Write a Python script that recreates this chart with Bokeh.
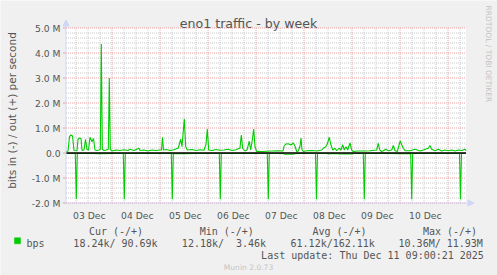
from math import pi
from bokeh.plotting import figure
from bokeh.models import Label, Arrow, NormalHead, Range1d
from bokeh.core.properties import value
from bokeh.embed import file_html
from bokeh.resources import INLINE

# ---------------- data ----------------
TITLE = "eno1 traffic - by week"
Y_LABEL = "bits in (-) / out (+) per second"
WATERMARK = "RRDTOOL / TOBI OETIKER"
FOOTER = "Munin 2.0.73"

# x: hours since 03 Dec 00:00
day_label_hours = [12, 36, 60, 84, 108, 132, 156, 180]
day_labels = ["03 Dec", "04 Dec", "05 Dec", "06 Dec", "07 Dec", "08 Dec", "09 Dec", "10 Dec"]
midnight_hours = [24, 48, 72, 96, 120, 144, 168, 192]
six_hour_marks = [h for h in range(6, 201, 6) if h % 24 != 0]

y_ticks = [-2, -1, 0, 1, 2, 3, 4, 5]
y_tick_labels = ["-2.0 M", "-1.0 M", "0.0", "1.0 M", "2.0 M", "3.0 M", "4.0 M", "5.0 M"]
y_minor = [round(-2 + 0.2 * i, 1) for i in range(36) if i % 5 != 0]

# out (+), Mbit/s
out_hours = [1.0, 2.0, 2.75, 3.5, 4.25, 5.0, 6.5, 7.0, 7.75, 8.5, 9.0, 10.0, 10.75, 11.5,
             12.25, 13.0, 14.0, 14.75, 15.5, 16.5, 17.5, 18.15, 18.65, 19.15, 20.0, 21.0,
             22.15, 22.65, 23.15, 24.0, 26.0, 28.0, 30.0, 32.0, 33.0, 35.0, 37.5, 38.0,
             40.0, 42.0, 44.0, 46.0, 48.0, 48.75, 49.25, 49.75, 51.0, 53.0, 55.0, 57.15,
             58.35, 59.0, 60.15, 60.85, 61.65, 64.0, 66.0, 68.0, 70.0, 71.0, 71.65, 72.35,
             74.0, 76.0, 78.0, 80.0, 82.0, 84.0, 86.0, 88.0, 88.65, 89.35, 90.5, 91.5,
             92.65, 93.35, 94.15, 94.85, 95.5, 96.35, 99.0, 101.0, 104.0, 107.0, 109.5,
             110.0, 110.85, 112.15, 113.5, 114.65, 115.5, 116.35, 117.15, 118.0, 118.5,
             119.0, 119.65, 121.5, 124.0, 126.5, 128.85, 129.65, 130.85, 131.65, 132.65,
             133.35, 134.35, 135.5, 136.35, 137.5, 138.5, 139.35, 140.15, 141.0, 141.85,
             143.0, 143.85, 144.65, 147.0, 150.0, 153.0, 156.35, 157.15, 157.85, 158.85,
             159.65, 160.85, 162.15, 163.85, 164.65, 165.5, 166.65, 167.65, 168.15, 168.85,
             169.65, 170.5, 173.0, 175.5, 178.0, 179.65, 182.15, 183.0, 183.85, 185.5,
             187.15, 188.85, 190.5, 192.15, 193.85, 195.5, 197.15, 199.0, 200.5, 201.0]
out_mbps = [0.05, 0.08, 0.66, 0.72, 0.68, 0.10, 0.09, 0.55, 0.60, 0.58, 0.10, 0.12, 0.55, 0.14,
            0.12, 0.63, 0.45, 0.58, 0.12, 0.10, 0.12, 0.14, 4.36, 0.15, 0.10, 0.12,
            0.15, 3.00, 0.14, 0.08, 0.12, 0.10, 0.13, 0.10, 0.15, 0.10, 0.19, 0.10,
            0.12, 0.08, 0.12, 0.10, 0.12, 0.12, 0.63, 0.12, 0.14, 0.10, 0.13, 0.20,
            0.55, 0.25, 1.36, 0.25, 0.12, 0.14, 0.10, 0.13, 0.11, 0.35, 0.96, 0.12,
            0.10, 0.14, 0.11, 0.12, 0.15, 0.10, 0.13, 0.20, 0.72, 0.18, 0.08, 0.12,
            0.47, 0.12, 0.52, 0.96, 0.25, 0.06, 0.06, 0.07, 0.08, 0.09, 0.08,
            0.27, 0.36, 0.37, 0.32, 0.40, 0.27, 0.06, 0.08, 0.27, 0.60,
            0.12, 0.06, 0.09, 0.10, 0.08, 0.12, 0.19, 0.25, 0.36, 0.63,
            0.36, 0.12, 0.19, 0.09, 0.19, 0.12, 0.33, 0.12, 0.25, 0.12,
            0.40, 0.12, 0.06, 0.08, 0.08, 0.09, 0.12, 0.39, 0.12, 0.06,
            0.09, 0.15, 0.09, 0.12, 0.30, 0.09, 0.06, 0.36, 0.48, 0.33,
            0.19, 0.09, 0.09, 0.15, 0.08, 0.12, 0.19, 0.30, 0.15, 0.09,
            0.15, 0.08, 0.12, 0.09, 0.12, 0.08, 0.12, 0.10, 0.15, 0.09]

# in (-), Mbit/s
in_hours = [1.0, 5.65, 6.15, 6.65, 12.0, 18.0, 24.0, 29.65, 30.15, 30.65, 36.0, 42.0, 48.0,
            53.65, 54.15, 54.65, 60.0, 66.0, 72.0, 77.65, 78.15, 78.65, 84.0, 90.0, 96.0,
            101.65, 102.15, 102.65, 108.0, 109.5, 110.5, 114.5, 116.0, 120.0, 125.75,
            126.25, 126.75, 131.5, 132.5, 134.0, 139.0, 140.0, 144.0, 145.0, 149.65,
            150.15, 150.65, 156.0, 162.0, 168.0, 173.35, 173.85, 174.35, 180.0, 186.0,
            192.0, 197.75, 198.25, 198.75, 201.0]
in_mbps = [-0.02, -0.02, -1.84, -0.02, -0.02, -0.03, -0.02, -0.02, -1.85, -0.02, -0.02, -0.02, -0.02,
           -0.02, -1.85, -0.02, -0.03, -0.02, -0.02, -0.02, -1.85, -0.02, -0.02, -0.02, -0.02,
           -0.02, -1.85, -0.02, -0.02, -0.02, -0.05, -0.05, -0.02, -0.02, -0.02,
           -1.85, -0.02, -0.02, -0.04, -0.02, -0.04, -0.03, -0.04, -0.02, -0.02,
           -1.85, -0.02, -0.02, -0.02, -0.03, -0.02, -1.85, -0.02, -0.02, -0.02,
           -0.02, -0.02, -1.85, -0.02, -0.02]

legend_name = "bps"
legend_headers = ["Cur (-/+)", "Min (-/+)", "Avg (-/+)", "Max (-/+)"]
legend_values = ["18.24k/ 90.69k", "12.18k/  3.46k", "61.12k/162.11k", "10.36M/ 11.93M"]
last_update = "Last update: Thu Dec 11 09:00:21 2025"

assert len(out_hours) == len(out_mbps)
assert len(in_hours) == len(in_mbps)

# ---------------- layout: the frame is the whole canvas; the chart area is a sub-box ----------------
W, H = 497, 275
FL, FR, FT, FB = 65.5, 465.5, 27.5, 202.5     # chart area in pixels
X0, X1, Y0, Y1 = 1.0, 201.0, -2.0, 5.0         # chart area in data units


def hx(px):
    return X0 + (px - FL) * (X1 - X0) / (FR - FL)


def vy(py):
    return Y1 - (py - FT) * (Y1 - Y0) / (FB - FT)


def keep_spaces(s):
    # monospace legend: keep runs of spaces visible in SVG text
    return s.replace(" ", "\u00a0")


GREEN = "#00CC00"
AXIS = "#CFD6F8"
MAJ = "#E8A0A0"
MIN = "#C8C8C8"
TXT = "#555555"
LIGHT = "#c4c4c4"
SANS = "DejaVu Sans"
MONO = "DejaVu Sans Mono"

p = figure(width=W, height=H, x_range=Range1d(hx(0), hx(W)), y_range=Range1d(vy(H), vy(0)),
           output_backend="svg", toolbar_location=None, title=None,
           x_axis_location=None, y_axis_location=None, min_border=0,
           background_fill_color="#F0F0F0", border_fill_color="#F0F0F0",
           outline_line_color=None)
p.grid.visible = False

# canvas
p.quad(left=[X0], right=[X1], bottom=[Y0], top=[Y1], fill_color="#FFFFFF", line_color=None)

# grid lines (from the tick arrays, through the plot scales)
p.segment(x0=six_hour_marks, y0=Y0, x1=six_hour_marks, y1=Y1, line_color=MIN, line_width=1, line_dash="1 1")
p.segment(x0=X0, y0=y_minor, x1=X1, y1=y_minor, line_color=MIN, line_width=1, line_dash="1 1")
p.segment(x0=midnight_hours, y0=Y0, x1=midnight_hours, y1=Y1, line_color=MAJ, line_width=1, line_dash="1 1")
p.segment(x0=X0, y0=y_ticks, x1=X1, y1=y_ticks, line_color=MAJ, line_width=1, line_dash="1 1")
# small ticks left of the y axis
p.segment(x0=hx(62.5), y0=y_ticks, x1=X0, y1=y_ticks, line_color=MAJ, line_width=1)

# tick labels
p.text(x=hx(60), y=y_ticks, text=y_tick_labels, text_align="right", text_baseline="middle",
       text_font=value(SANS), text_font_size=value("9.2px"), text_color=TXT)
p.text(x=day_label_hours, y=vy(215), text=day_labels, text_align="center", text_baseline="alphabetic",
       x_offset=1.3, text_font=value(SANS), text_font_size=value("9.2px"), text_color=TXT)

# data
p.line(out_hours, out_mbps, line_color=GREEN, line_width=1.1)
p.line(in_hours, in_mbps, line_color=GREEN, line_width=1.1)
p.line([X0, X1], [0, 0], line_color="#000000", line_width=1.6)

# axis lines with arrows
p.add_layout(Arrow(x_start=X0, y_start=Y0, x_end=X0, y_end=vy(19.5), line_color=AXIS, line_width=1,
                   end=NormalHead(size=6, fill_color=AXIS, line_color=AXIS)))
p.add_layout(Arrow(x_start=X0, y_start=Y0, x_end=hx(473.5), y_end=Y0, line_color=AXIS, line_width=1,
                   end=NormalHead(size=6, fill_color=AXIS, line_color=AXIS)))

# texts
p.add_layout(Label(x=hx(248), y=vy(23), text=TITLE, text_align="center", text_baseline="alphabetic",
                   text_font=SANS, text_font_size="12.6px", text_color=TXT))
p.add_layout(Label(x=hx(11), y=vy(110), text=Y_LABEL, angle=pi / 2, text_align="center",
                   text_baseline="middle", text_font=SANS, text_font_size="10.5px", text_color=TXT))
p.add_layout(Label(x=hx(487.5), y=vy(53.4), text=WATERMARK, angle=-pi / 2, text_align="center",
                   text_baseline="middle", text_font=SANS, text_font_size="7.5px", text_color=LIGHT))
p.add_layout(Label(x=hx(248), y=vy(266.7), text=FOOTER, text_align="center", text_baseline="alphabetic",
                   text_font=SANS, text_font_size="7.55px", text_color=LIGHT))

# legend
p.quad(left=[hx(14)], right=[hx(20)], top=[vy(237.3)], bottom=[vy(243.3)],
       fill_color=GREEN, line_color=GREEN, line_width=0.5)
p.add_layout(Label(x=hx(26), y=vy(243.3), text=legend_name, text_align="left", text_baseline="alphabetic",
                   text_font=MONO, text_font_size="10px", text_color=TXT))
for cx, t in zip([115.5, 226.3, 339.0, 449.5], legend_headers):
    p.add_layout(Label(x=hx(cx), y=vy(230.7), text=keep_spaces(t), text_align="center",
                       text_baseline="alphabetic", text_font=MONO, text_font_size="10px", text_color=TXT))
for cx, t in zip([115.0, 223.5, 332.2, 440.2], legend_values):
    p.add_layout(Label(x=hx(cx), y=vy(243.3), text=keep_spaces(t), text_align="center",
                       text_baseline="alphabetic", text_font=MONO, text_font_size="10px", text_color=TXT))
p.add_layout(Label(x=hx(372), y=vy(255), text=last_update, text_align="center", text_baseline="alphabetic",
                   text_font=MONO, text_font_size="10px", text_color=TXT))

open("out.html", "w").write(file_html(p, INLINE))
